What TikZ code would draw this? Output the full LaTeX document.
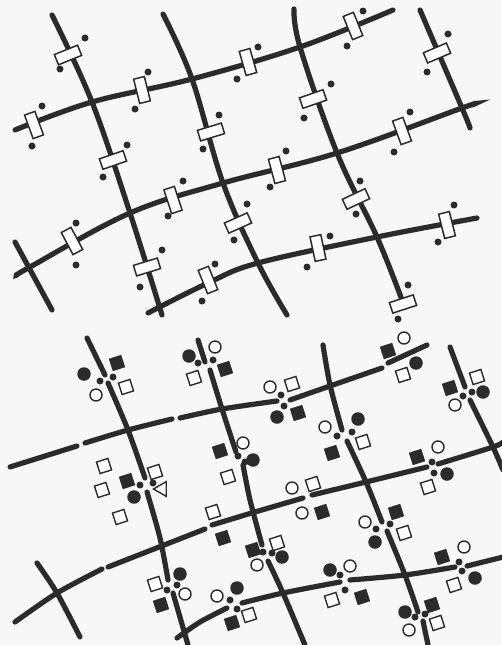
\documentclass[tikz,border=0pt]{standalone}
\usetikzlibrary{shapes.geometric}
\definecolor{roadgray}{HTML}{2B2B2B}
\definecolor{paper}{HTML}{F7F7F7}

\begin{document}
\begin{tikzpicture}[
  x=1pt, y=-1pt,
  road/.style={draw=roadgray, line width=5.2pt, line cap=round},
  gate/.style={
    rectangle, draw=roadgray, line width=1.5pt,
    fill=white,
    minimum width=25pt, minimum height=11pt,
    inner sep=0pt
  },
  dot/.style={circle, fill=roadgray, minimum size=7pt, inner sep=0pt},
  opencirc/.style={circle, draw=roadgray, line width=1.4pt, fill=white, minimum size=12pt, inner sep=0pt},
  fillcirc/.style={circle, fill=roadgray, minimum size=13.5pt, inner sep=0pt},
  opensq/.style={rectangle, draw=roadgray, line width=1.4pt, fill=white, minimum size=12pt, inner sep=0pt, rotate=18},
  fillsq/.style={rectangle, fill=roadgray, minimum size=13pt, inner sep=0pt, rotate=18},
  opentri/.style={regular polygon, regular polygon sides=3, shape border rotate=90,
    draw=roadgray, line width=1.4pt, fill=white, minimum size=17pt, inner sep=0pt}
]

% =============================================================================
% Page (pixel grid of the sheet, y running downwards)
% =============================================================================
\fill[paper] (0,0) rectangle (501,645);
\useasboundingbox (0,0) rectangle (501,645);

% =============================================================================
% Upper network: streets with gates
% =============================================================================
\draw[road] plot[smooth, tension=0.6] coordinates {(15,130) (92,102) (192,79) (300,47) (393,10)};
\draw[road] plot[smooth, tension=0.6] coordinates {(17,275) (30,267) (130,213) (223,183) (337,153) (462,108) (472,105)};
\draw[road] plot[smooth, tension=0.6] coordinates {(148,313) (208,283) (258,263) (377,237) (477,218)};

\draw[road] plot[smooth, tension=0.6] coordinates {(52,15) (92,102) (130,213) (162,315)};
\draw[road] plot[smooth, tension=0.6] coordinates {(163,14) (192,79) (223,183) (258,263) (287,315)};
\draw[road] plot[smooth, tension=0.6] coordinates {(294,9) (300,47) (337,153) (377,237) (402,300)};
\draw[road] plot[smooth, tension=0.6] coordinates {(420,10) (462,108) (470,128)};
\draw[road] (15,242) -- (52,310);

% --- gates on the first street row
\node[gate, rotate=110] (g2) at (34,125) {};
\node[dot] (g2a) at (42,106) {};  \node[dot] (g2b) at (32,146) {};
\node[gate, rotate=104] (g3) at (142,90) {};
\node[dot] (g3a) at (148,72) {};  \node[dot] (g3b) at (135,109) {};
\node[gate, rotate=106] (g6) at (248,62) {};
\node[dot] (g6a) at (258,47) {};  \node[dot] (g6b) at (237,79) {};
\node[gate, rotate=112] (g7) at (353,26) {};
\node[dot] (g7a) at (363,11) {};  \node[dot] (g7b) at (347,46) {};

% --- gates on the second street row
\node[gate, rotate=118] (g11) at (72,241) {};
\node[dot] (g11a) at (76,223) {}; \node[dot] (g11b) at (76,265) {};
\node[gate, rotate=108] (g12) at (173,200) {};
\node[dot] (g12a) at (183,181) {}; \node[dot] (g12b) at (168,216) {};
\node[gate, rotate=105] (g13) at (277,170) {};
\node[dot] (g13a) at (286,151) {}; \node[dot] (g13b) at (270,187) {};
\node[gate, rotate=110] (g10) at (402,131) {};
\node[dot] (g10a) at (410,112) {}; \node[dot] (g10b) at (394,152) {};

% --- gates on the third street row
\node[gate, rotate=112] (g16) at (208,280) {};
\node[dot] (g16a) at (215,264) {}; \node[dot] (g16b) at (202,301) {};
\node[gate, rotate=102] (g18) at (318,248) {};
\node[dot] (g18a) at (330,236) {}; \node[dot] (g18b) at (307,267) {};
\node[gate, rotate=104] (g19) at (447,225) {};
\node[dot] (g19a) at (454,205) {}; \node[dot] (g19b) at (438,242) {};

% --- gates on the cross streets
\node[gate, rotate=22] (g1) at (68,55) {};
\node[dot] (g1a) at (85,38) {};   \node[dot] (g1b) at (60,69) {};
\node[gate, rotate=19] (g4) at (113,160) {};
\node[dot] (g4a) at (127,145) {}; \node[dot] (g4b) at (103,177) {};
\node[gate, rotate=17] (g14) at (147,267) {};
\node[dot] (g14a) at (162,250) {}; \node[dot] (g14b) at (140,287) {};
\node[gate, rotate=17] (g5) at (211,132) {};
\node[dot] (g5a) at (219,115) {}; \node[dot] (g5b) at (203,149) {};
\node[gate, rotate=24] (g15) at (238,223) {};
\node[dot] (g15a) at (247,204) {}; \node[dot] (g15b) at (234,240) {};
\node[gate, rotate=19] (g8) at (313,99) {};
\node[dot] (g8a) at (331,84) {};  \node[dot] (g8b) at (304,118) {};
\node[gate, rotate=25] (g17) at (356,199) {};
\node[dot] (g17a) at (360,181) {}; \node[dot] (g17b) at (356,214) {};
\node[gate, rotate=18] (g20) at (403,304) {};
\node[dot] (g20a) at (408,285) {}; \node[dot] (g20b) at (398,319) {};
\node[gate, rotate=23] (g9) at (437,53) {};
\node[dot] (g9a) at (448,34) {};  \node[dot] (g9b) at (427,72) {};

% =============================================================================
% Lower network: broken streets with marks at the breaks
% =============================================================================
% --- cross streets
\draw[road] (87,338) -- (105,375);
\draw[road] plot[smooth] coordinates {(108,383) (128,430) (145,478)};
\draw[road] plot[smooth] coordinates {(147,492) (160,538) (168,580)};
\draw[road] (173,593) -- (188,645);

\draw[road] (198,340) -- (205,362);
\draw[road] plot[smooth] coordinates {(210,370) (222,409) (236,452)};
\draw[road] plot[smooth] coordinates {(243,465) (250,500) (262,545)};
\draw[road] plot[smooth] coordinates {(268,561) (283,593) (305,645)};

\draw[road] plot[smooth] coordinates {(323,345) (330,385) (342,430)};
\draw[road] plot[smooth] coordinates {(347,441) (366,482) (382,522)};
\draw[road] plot[smooth] coordinates {(387,531) (405,575) (418,612)};
\draw[road] (423,621) -- (428,645);

\draw[road] (450,347) -- (465,387);
\draw[road] plot[smooth] coordinates {(470,400) (493,447) (503,470)};

\draw[road] plot[smooth] coordinates {(37,563) (57,593) (80,637)};

% --- long streets
\draw[road] (10,467) -- (77,446);
\draw[road] plot[smooth] coordinates {(85,443) (128,430) (172,419)};
\draw[road] plot[smooth] coordinates {(180,418) (222,409) (277,401)};
\draw[road] plot[smooth] coordinates {(290,400) (330,386) (382,368)};
\draw[road] (388,363) -- (427,345);

\draw[road] plot[smooth] coordinates {(15,622) (57,593) (102,569)};
\draw[road] (108,567) -- (205,529);
\draw[road] plot[smooth] coordinates {(212,525) (255,512) (303,498)};
\draw[road] plot[smooth] coordinates {(312,495) (366,482) (427,467)};
\draw[road] plot[smooth] coordinates {(438,464) (493,447) (503,442)};

\draw[road] plot[smooth] coordinates {(177,638) (200,622) (227,608)};
\draw[road] plot[smooth] coordinates {(242,603) (283,593) (340,582)};
\draw[road] plot[smooth] coordinates {(350,580) (405,575) (455,567)};
\draw[road] (467,566) -- (503,557);

% --- marks, first row of breaks
\node[dot] (q1a) at (100,381) {}; \node[dot] (q1b) at (113,377) {};
\node[fillcirc] (q1fc) at (84,374) {}; \node[fillsq] (q1fs) at (117,363) {};
\node[opencirc] (q1oc) at (96,395) {}; \node[opensq] (q1os) at (126,387) {};

\node[dot] (q2a) at (198,363) {}; \node[dot] (q2b) at (213,360) {};
\node[fillcirc] (q2fc) at (189,356) {}; \node[opencirc] (q2oc) at (215,347) {};
\node[opensq] (q2os) at (194,378) {}; \node[fillsq] (q2fs) at (225,369) {};

\node[dot] (q3a) at (281,395) {}; \node[dot] (q3b) at (284,406) {};
\node[opencirc] (q3oc) at (270,387) {}; \node[opensq] (q3os) at (292,384) {};
\node[fillcirc] (q3fc) at (277,417) {}; \node[fillsq] (q3fs) at (298,413) {};

\node[fillsq] (q4fs) at (388,351) {}; \node[opencirc] (q4oc) at (404,338) {};
\node[opensq] (q4os) at (403,375) {}; \node[fillcirc] (q4fc) at (416,363) {};

\node[dot] (q5a) at (463,396) {}; \node[dot] (q5b) at (472,392) {};
\node[fillsq] (q5fs) at (450,388) {}; \node[opensq] (q5os) at (477,377) {};
\node[opencirc] (q5oc) at (455,405) {}; \node[fillcirc] (q5fc) at (483,392) {};

\node[dot] (q21a) at (337,436) {}; \node[dot] (q21b) at (352,432) {};
\node[opencirc] (q21oc) at (325,427) {}; \node[fillcirc] (q21fc) at (358,419) {};
\node[fillsq] (q21fs) at (332,453) {}; \node[opensq] (q21os) at (363,442) {};

% --- marks, second row of breaks
\node[dot] (q6a) at (140,485) {}; \node[dot] (q6b) at (153,483) {};
\node[fillsq] (q6fs) at (127,481) {}; \node[fillcirc] (q6fc) at (134,497) {};
\node[opensq] (q6os) at (155,472) {}; \node[opentri] (q6tri) at (162,489) {};
\node[opensq] (q6s1) at (104,466) {}; \node[opensq] (q6s2) at (102,490) {};
\node[opensq] (q6s3) at (120,517) {};

\node[dot] (q7a) at (238,456) {}; \node[dot] (q7b) at (245,462) {};
\node[fillsq] (q7fs) at (220,451) {}; \node[opencirc] (q7oc) at (243,443) {};
\node[fillcirc] (q7fc) at (253,460) {}; \node[opensq] (q7os) at (228,477) {};

\node[dot] (q17a) at (432,462) {}; \node[dot] (q17b) at (434,473) {};
\node[fillsq] (q17fs) at (417,457) {}; \node[opencirc] (q17oc) at (438,447) {};
\node[fillcirc] (q17fc) at (447,474) {}; \node[opensq] (q17os) at (428,487) {};

\node[opensq] (q10os) at (213,512) {}; \node[fillsq] (q10fs) at (223,538) {};

\node[opencirc] (q12oc) at (292,488) {}; \node[opensq] (q12os) at (313,484) {};
\node[opencirc] (q12oc2) at (302,513) {}; \node[fillsq] (q12fs) at (322,512) {};

\node[dot] (q13a) at (376,529) {}; \node[dot] (q13b) at (390,524) {};
\node[opencirc] (q13oc) at (365,522) {}; \node[fillcirc] (q13fc) at (375,542) {};
\node[fillsq] (q13fs) at (396,512) {}; \node[opensq] (q13os) at (404,533) {};

\node[dot] (q11a) at (263,552) {}; \node[dot] (q11b) at (272,553) {};
\node[opensq] (q11os) at (277,543) {}; \node[fillcirc] (q11fc) at (282,557) {};
\node[opencirc] (q11oc) at (257,565) {}; \node[fillsq] (q11fs) at (253,550) {};

% --- marks, third row of breaks
\node[dot] (q18a) at (167,590) {}; \node[dot] (q18b) at (177,585) {};
\node[opensq] (q18os) at (155,584) {}; \node[fillcirc] (q18fc) at (180,574) {};
\node[opencirc] (q18oc) at (185,594) {}; \node[fillsq] (q18fs) at (161,605) {};

\node[dot] (q19a) at (230,600) {}; \node[dot] (q19b) at (237,609) {};
\node[opencirc] (q19oc) at (217,596) {}; \node[fillcirc] (q19fc) at (237,588) {};
\node[fillsq] (q19fs) at (232,623) {}; \node[opensq] (q19os) at (249,615) {};

\node[dot] (q14a) at (340,575) {}; \node[dot] (q14b) at (345,590) {};
\node[fillcirc] (q14fc) at (330,570) {}; \node[opencirc] (q14oc) at (350,566) {};
\node[opensq] (q14os) at (332,600) {}; \node[fillsq] (q14fs) at (362,597) {};

\node[dot] (q15a) at (459,562) {}; \node[dot] (q15b) at (462,571) {};
\node[fillsq] (q15fs) at (442,557) {}; \node[opencirc] (q15oc) at (464,547) {};
\node[opensq] (q15os) at (454,585) {}; \node[fillcirc] (q15fc) at (475,578) {};

\node[dot] (q16a) at (415,617) {}; \node[dot] (q16b) at (425,614) {};
\node[fillcirc] (q16fc) at (405,612) {}; \node[fillsq] (q16fs) at (432,605) {};
\node[opencirc] (q16oc) at (409,630) {}; \node[opensq] (q16os) at (437,623) {};

\end{tikzpicture}
\end{document}
